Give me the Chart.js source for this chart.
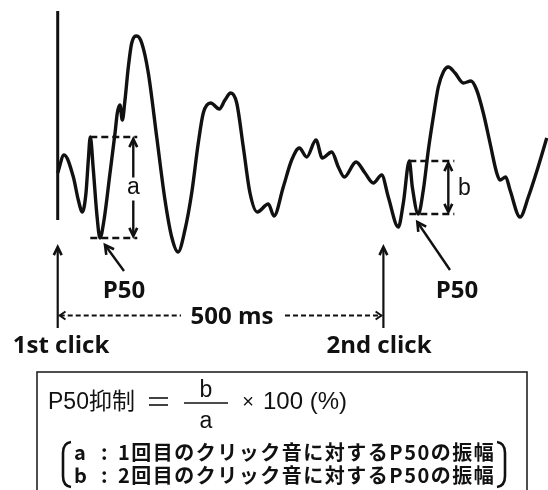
<!DOCTYPE html>
<html lang="ja">
<head>
<meta charset="utf-8">
<script src="https://cdn.jsdelivr.net/npm/chart.js@4/dist/chart.umd.min.js"></script>
<style>
  html, body { margin: 0; padding: 0; background: #fff; }
  #wrap { position: relative; width: 548px; height: 490px; }
</style>
</head>
<body>
<div id="wrap"><canvas id="c" width="548" height="490"></canvas></div>
<script>
// Evoked potential after a pair of clicks; time in ms from the 1st click, amplitude in µV
const waveTimeMs = [
  0, 9.7, 24.0, 31.6, 37.8, 43.4, 47.0, 50.0, 54.7, 59.9, 64.9, 71.1, 80.3, 88.0, 91.5,
  95.6, 99.2, 103.3, 108.4, 113.6, 121.3, 129.0, 139.1, 152.0, 164.7, 175.0, 184.7, 195.3,
  205.7, 215.8, 223.5, 234.9, 248.1, 256.8, 265.6, 274.8, 284.9, 295.2, 306.4, 323.3, 332.1,
  346.3, 359.2, 370.9, 382.3, 396.5, 406.2, 420.6, 430.8, 440.0, 458.0, 471.8, 484.5, 497.4,
  507.5, 522.9, 530.6, 539.8, 544.4, 553.6, 561.3, 569.0, 576.6, 584.3, 592.0, 599.7, 610.0,
  622.7, 634.5, 643.2, 653.4, 663.7, 674.0, 679.0, 687.8, 694.4, 709.8, 722.5, 737.5, 750.8
];
const waveAmp = [
  2.7, 4.5, 2.3, 0.0, -1.2, 0.7, 4.0, 6.3, 3.0, -1.3, -3.8, -2.0, 2.7, 6.7, 8.7,
  9.5, 8.0, 10.0, 13.3, 15.7, 16.4, 15.7, 12.7, 6.3, 0.0, -3.7, -5.2, -3.0,
  0.7, 5.7, 8.7, 9.7, 9.1, 10.0, 10.7, 9.7, 5.3, 0.7, -1.2, -0.4, -1.6,
  1.3, 4.0, 5.2, 4.3, 6.0, 4.2, 4.8, 3.3, 2.3, 3.8, 2.7, 1.7, 2.5,
  0.3, -2.7, -0.3, 3.9, 1.3, -1.4, 1.0, 5.0, 8.3, 11.3, 12.8, 13.3, 12.7,
  11.7, 11.9, 11.0, 8.7, 5.7, 2.7, 2.0, 2.3, 1.0, -1.7, 0.3, 3.3, 6.2
];

// Vertical reference line at stimulus onset (amplitude range it covers)
const onsetLineAmp = [18.9, -2.0];

// Click onsets and their names
const clickTimesMs = [0, 500];
const clickLabels = ['1st click', '2nd click'];
const intervalLabel = '500 ms';

// P50 positive peak and the following trough that define its amplitude
const p50PeakMs = [50.0, 539.8];
const p50TroughMs = [64.9, 553.6];
const amplitudeNames = ['a', 'b'];
const peakName = 'P50';

// Formula and the explanation of its terms
const formulaLead = 'P50抑制';
const formulaTail = '100 (%)';
const legendNames = ['a', 'b'];
const legendTexts = ['1回目のクリック音に対するP50の振幅', '2回目のクリック音に対するP50の振幅'];

const INK = '#111';

const wavePoints = waveTimeMs.map((t, i) => ({ x: t, y: waveAmp[i] }));
const onsetPoints = onsetLineAmp.map(v => ({ x: clickTimesMs[0], y: v }));

function chevron(ctx, x, y, ang, len, spread) {
  ctx.beginPath();
  ctx.moveTo(x - len * Math.cos(ang - spread), y - len * Math.sin(ang - spread));
  ctx.lineTo(x, y);
  ctx.lineTo(x - len * Math.cos(ang + spread), y - len * Math.sin(ang + spread));
  ctx.stroke();
}

function line(ctx, x1, y1, x2, y2) {
  ctx.beginPath();
  ctx.moveTo(x1, y1);
  ctx.lineTo(x2, y2);
  ctx.stroke();
}

const annotations = {
  id: 'annotations',
  afterDatasetsDraw(chart) {
    const { ctx, scales: { x, y } } = chart;
    const X = t => x.getPixelForValue(t);
    const Y = v => y.getPixelForValue(v);
    const ampAt = t => waveAmp[waveTimeMs.indexOf(t)];
    const boldFont = 'bold 24px "Open Sans", sans-serif';

    ctx.save();
    ctx.strokeStyle = INK;
    ctx.fillStyle = INK;
    ctx.lineCap = 'butt';

    // amplitude of each P50: dashed levels and a double arrow
    const spans = [47, 45];
    const arrowBack = [4, 6];
    p50PeakMs.forEach((tp, i) => {
      const x0 = X(tp);
      const x1 = x0 + spans[i];
      const yTop = Y(ampAt(tp));
      const yBot = Y(ampAt(p50TroughMs[i]));
      ctx.lineWidth = 2.4;
      ctx.setLineDash([7, 4]);
      line(ctx, x0, yTop, x1, yTop);
      line(ctx, x0, yBot, x1, yBot);
      ctx.setLineDash([]);
      const ax = x1 - arrowBack[i];
      ctx.lineWidth = 2.4;
      ctx.font = '23px "Liberation Sans", Arial, sans-serif';
      ctx.textAlign = 'center';
      ctx.textBaseline = 'middle';
      if (i === 0) {
        const mid = (yTop + yBot) / 2;
        line(ctx, ax, yTop + 2, ax, mid - 10);
        line(ctx, ax, mid + 13, ax, yBot - 2);
        ctx.fillText(amplitudeNames[i], ax, mid);
      } else {
        line(ctx, ax, yTop + 2, ax, yBot - 2);
        ctx.fillText(amplitudeNames[i], ax + 16, (yTop + yBot) / 2 + 1);
      }
      ctx.lineWidth = 2.6;
      chevron(ctx, ax, yTop + 2, -Math.PI / 2, 9, 0.45);
      chevron(ctx, ax, yBot - 2, Math.PI / 2, 9, 0.45);
    });

    // pointers from the P50 labels to the troughs
    const pointerFrom = [[124, 271], [450, 270]];
    const tipOffset = [[5, 7], [-1, 8]];
    ctx.font = boldFont;
    ctx.textAlign = 'center';
    ctx.textBaseline = 'alphabetic';
    p50TroughMs.forEach((tt, i) => {
      const tx = X(tt) + tipOffset[i][0];
      const ty = Y(ampAt(tt)) + tipOffset[i][1];
      const [fx, fy] = pointerFrom[i];
      ctx.lineWidth = 2.4;
      line(ctx, fx, fy, tx, ty);
      ctx.lineWidth = 2.6;
      chevron(ctx, tx, ty, Math.atan2(ty - fy, tx - fx), 10, 0.5);
      ctx.fillText(peakName, [124, 457][i], 298);
    });

    // click onset arrows
    clickTimesMs.forEach((t, i) => {
      const cx = X(t);
      ctx.lineWidth = 2.2;
      line(ctx, cx, 328, cx, 248);
      ctx.lineWidth = 2.6;
      chevron(ctx, cx, 247, -Math.PI / 2, 9, 0.45);
      ctx.font = boldFont;
      ctx.fillText(clickLabels[i], [61, 379][i], 353);
    });

    // inter-click interval
    const xa = X(clickTimesMs[0]);
    const xb = X(clickTimesMs[1]);
    const yi = 315.5;
    ctx.lineWidth = 1.8;
    ctx.setLineDash([5, 3]);
    line(ctx, xa + 2, yi, 181, yi);
    line(ctx, 285, yi, xb - 2, yi);
    ctx.setLineDash([]);
    ctx.lineWidth = 2;
    chevron(ctx, xa + 2, yi, Math.PI, 7, 0.6);
    chevron(ctx, xb - 2, yi, 0, 7, 0.6);
    ctx.font = boldFont;
    ctx.fillText(intervalLabel, 232, 324);

    // formula box
    ctx.lineWidth = 1.6;
    ctx.strokeStyle = '#222';
    ctx.strokeRect(37, 372, 490, 140);
    ctx.strokeStyle = INK;

    ctx.font = '23px "Liberation Sans", "Noto Sans CJK JP", sans-serif';
    ctx.textAlign = 'left';
    ctx.fillText(formulaLead, 48, 409);
    ctx.lineWidth = 1.6;
    line(ctx, 149, 398, 168, 398);
    line(ctx, 149, 405, 168, 405);
    ctx.textAlign = 'center';
    ctx.fillText('b', 206, 397);
    ctx.fillText('a', 206, 428);
    line(ctx, 184, 403, 228, 403);
    ctx.font = '20px "Liberation Sans", sans-serif';
    ctx.fillText('×', 248, 408);
    ctx.font = '24px "Liberation Sans", "Noto Sans CJK JP", sans-serif';
    ctx.textAlign = 'left';
    ctx.fillText(formulaTail, 263, 409);

    // bracketed explanation of a and b
    ctx.lineWidth = 2.6;
    ctx.beginPath();
    ctx.moveTo(71, 442);
    ctx.quadraticCurveTo(63, 443, 63, 453);
    ctx.lineTo(63, 476);
    ctx.quadraticCurveTo(63, 486, 71, 487);
    ctx.stroke();
    ctx.beginPath();
    ctx.moveTo(497, 442);
    ctx.quadraticCurveTo(505, 443, 505, 453);
    ctx.lineTo(505, 476);
    ctx.quadraticCurveTo(505, 486, 497, 487);
    ctx.stroke();

    ctx.font = 'bold 20px "Noto Sans CJK JP", sans-serif';
    legendTexts.forEach((txt, i) => {
      const by = [460, 483][i];
      ctx.textAlign = 'left';
      ctx.letterSpacing = '0px';
      ctx.fillText(legendNames[i], 74, by);
      ctx.fillText(':', 101, by);
      ctx.letterSpacing = '1.5px';
      ctx.fillText(txt, 118, by);
    });
    ctx.letterSpacing = '0px';

    ctx.restore();
  }
};

new Chart(document.getElementById('c'), {
  type: 'line',
  data: {
    datasets: [
      {
        label: 'evoked potential',
        data: wavePoints,
        borderColor: INK,
        borderWidth: 3.4,
        pointRadius: 0,
        cubicInterpolationMode: 'monotone',
        fill: false
      },
      {
        label: 'onset',
        data: onsetPoints,
        borderColor: INK,
        borderWidth: 3,
        pointRadius: 0,
        tension: 0,
        fill: false
      }
    ]
  },
  options: {
    responsive: false,
    animation: false,
    devicePixelRatio: 1,
    layout: { padding: 0 },
    parsing: false,
    plugins: { legend: { display: false }, tooltip: { enabled: false } },
    scales: {
      x: { type: 'linear', min: -88.6, max: 752.7, display: false },
      y: { type: 'linear', min: -29, max: 20, display: false }
    }
  },
  plugins: [annotations]
});
</script>
</body>
</html>
